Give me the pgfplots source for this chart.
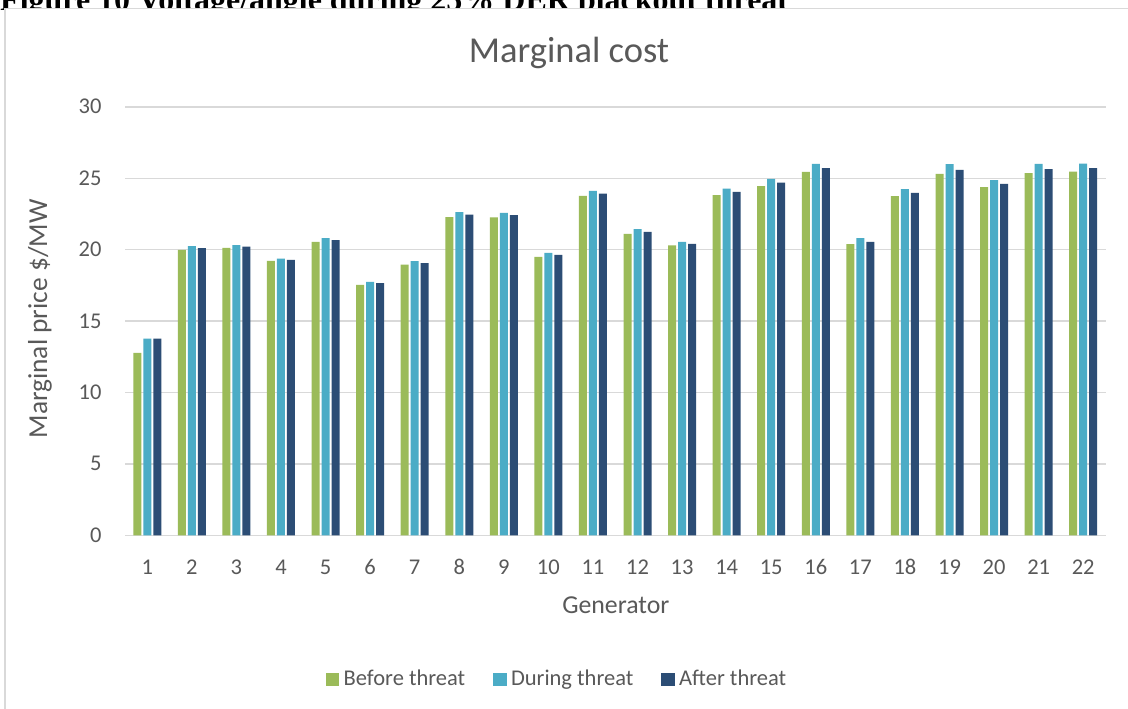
\documentclass[border=0pt]{standalone}
\usepackage{pgfplots}
\pgfplotsset{compat=1.18}
\usepackage{fontspec}
\setmainfont{Carlito}
\newfontfamily\docserif{Liberation Serif}
\definecolor{cBefore}{HTML}{9BBB59}
\definecolor{cDuring}{HTML}{4BACC6}
\definecolor{cAfter}{HTML}{2C4D75}
\definecolor{txt}{HTML}{595959}
\definecolor{gridc}{HTML}{D9D9D9}
\definecolor{framec}{HTML}{D9D9D9}

% Marginal price per generator ($/MW)
\pgfplotstableread{
gen before during after
1  12.78 13.78 13.78
2  20.00 20.25 20.11
3  20.13 20.32 20.22
4  19.22 19.38 19.29
5  20.55 20.81 20.67
6  17.54 17.75 17.66
7  18.96 19.20 19.06
8  22.28 22.63 22.46
9  22.27 22.59 22.42
10 19.50 19.78 19.64
11 23.78 24.13 23.94
12 21.11 21.44 21.25
13 20.30 20.55 20.41
14 23.83 24.29 24.06
15 24.46 24.97 24.71
16 25.46 26.02 25.72
17 20.39 20.81 20.55
18 23.76 24.25 23.99
19 25.32 26.00 25.60
20 24.39 24.88 24.62
21 25.37 26.02 25.65
22 25.48 26.04 25.72
}\margtable

\begin{document}
\begin{tikzpicture}
\path[use as bounding box] (0pt,0pt) rectangle (1128pt,709pt);
% document caption running above the chart object
\node[anchor=base west, inner sep=0, font=\docserif\bfseries\fontsize{32}{36}\selectfont]
  at (0pt,698pt) {Figure 10 Voltage/angle during 25\% DER blackout threat};
% chart object frame
\draw[framec, line width=1.5pt, fill=white] (4.75pt,-20pt) rectangle (1140pt,700.5pt);

\begin{axis}[
  at={(125pt,173.7pt)}, anchor=south west,
  scale only axis, width=980.5pt, height=428.3pt,
  ybar=2pt, bar width=8pt,
  xmin=0.5, xmax=22.5, ymin=0, ymax=30,
  xtick={1,...,22}, ytick={0,5,...,30},
  ymajorgrids, grid style={gridc, line width=1.3pt},
  axis line style={draw=none}, major tick length=0pt,
  /pgf/number format/assume math mode=true,
  tick label style={font=\fontsize{22.5}{26}\selectfont, text=txt},
  xticklabel style={anchor=base, inner sep=0pt, yshift=-39pt},
  yticklabel style={anchor=base east, inner sep=0pt, xshift=-23.3pt, yshift=-7pt},
  legend columns=3,
  legend style={draw=none, fill=none, at={(0.4396,-0.356)}, anchor=south,
    font=\fontsize{22.5}{26}\selectfont, text=txt, inner sep=0pt,
    nodes={inner sep=0pt, text height=0.7em, text depth=0.2em},
    /tikz/every odd column/.append style={column sep=4.5pt},
    /tikz/every even column/.append style={column sep=28pt}},
  legend image code/.code={\fill[#1] (0pt,-3.1pt) rectangle (13.3pt,10.2pt);},
]
\addplot[fill=cBefore, draw=none] table[x=gen, y=before] {\margtable};
\addplot[fill=cDuring, draw=none] table[x=gen, y=during] {\margtable};
\addplot[fill=cAfter, draw=none] table[x=gen, y=after] {\margtable};
\legend{Before threat, During threat, After threat}
\end{axis}

% chart title and axis titles
\node[anchor=base, inner sep=0, text=txt, font=\fontsize{36.5}{40}\selectfont] at (569pt,646.7pt) {Marginal cost};
\node[anchor=base, inner sep=0, text=txt, font=\fontsize{25.8}{30}\selectfont] at (615.8pt,95.7pt) {Generator};
\node[anchor=base, inner sep=0, rotate=90, text=txt, font=\fontsize{27.4}{31}\selectfont] at (47pt,390pt) {Marginal price \$/MW};
\end{tikzpicture}
\end{document}
